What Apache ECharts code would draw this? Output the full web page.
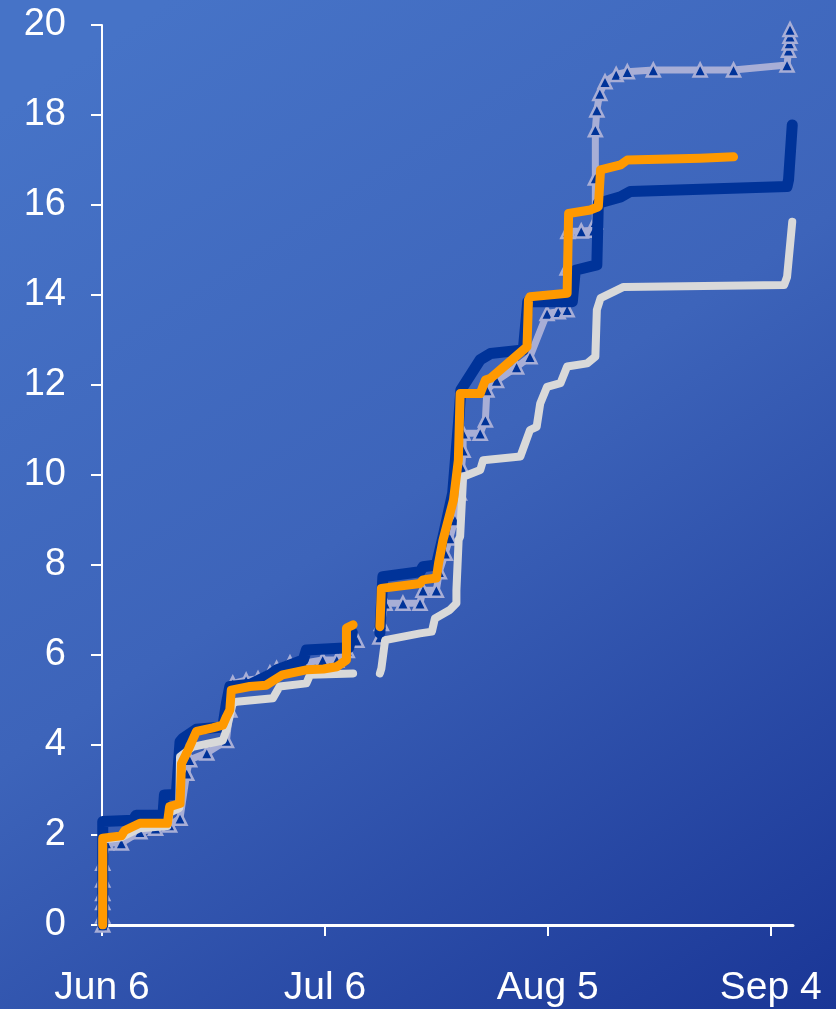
<!DOCTYPE html>
<html>
<head>
<meta charset="utf-8">
<title>Cumulative totals, Jun 6 – Sep 4</title>
<script src="https://cdn.jsdelivr.net/npm/echarts@6/dist/echarts.min.js"></script>
<style>
  html, body { margin: 0; padding: 0; }
  #chart { width: 836px; height: 1009px; }
</style>
</head>
<body>
<div id="chart"></div>
<script>
// x values are days after Jun 6; null breaks a line where readings are missing.
const startDate = Date.UTC(2007, 5, 6);
const monthNames = ['Jan', 'Feb', 'Mar', 'Apr', 'May', 'Jun', 'Jul', 'Aug', 'Sep', 'Oct', 'Nov', 'Dec'];
const xTickDays = [0, 30, 60, 90];
const yTicks = [0, 2, 4, 6, 8, 10, 12, 14, 16, 18, 20];

// Series with triangle markers (pale line, dark triangles)
const seriesTriangle = [
  [0.1, 0], [0.1, 0.2], [0.1, 0.5], [0.1, 0.7], [0.1, 1.0], [0.1, 1.37], [0.6, 1.82],
  [2.6, 1.82], [5.1, 2.07], [7.2, 2.15], [9.1, 2.22], [10.5, 2.37], [11.4, 3.37], [11.8, 3.67],
  [14.1, 3.82], [16.75, 4.1], [17.2, 4.78], [17.6, 5.37], [19.4, 5.44], [21.0, 5.47],
  [22.6, 5.6], [23.5, 5.7], [25.3, 5.82], [27.1, 5.82], [29.7, 5.89], [31.6, 5.89],
  [33.0, 6.1], [34.3, 6.33],
  [35.8, null],
  [37.4, 6.4], [37.6, 6.7], [38.1, 7.15], [40.5, 7.15], [42.8, 7.15], [43.2, 7.44], [45.0, 7.44],
  [45.4, 7.85], [46.2, 8.26], [46.8, 8.6], [47.5, 9.0], [48.1, 9.6], [48.4, 10.18],
  [48.6, 10.55], [48.6, 10.93], [50.9, 10.93], [51.6, 11.22], [51.8, 11.89], [53.1, 12.1],
  [55.8, 12.4], [57.6, 12.63], [59.9, 13.59], [61.4, 13.63], [62.6, 13.67], [62.6, 14.6],
  [62.7, 15.41], [64.5, 15.42], [66.2, 15.44], [66.4, 15.63], [66.4, 16.6], [66.4, 17.67],
  [66.6, 18.11], [67.0, 18.48], [67.7, 18.74], [69.2, 18.9], [70.7, 18.96], [74.2, 19.0],
  [80.5, 19.0], [85.0, 19.0], [92.2, 19.11], [92.4, 19.44], [92.5, 19.6], [92.6, 19.75], [92.6, 19.9]
];

// Dark blue series
const seriesNavy = [
  [0.1, 0], [0.1, 2.3], [4.2, 2.33], [4.6, 2.44], [8.2, 2.44], [8.4, 2.89], [10.0, 2.9],
  [10.5, 4.07], [10.9, 4.15], [12.7, 4.35], [16.25, 4.4], [16.75, 4.93], [17.2, 5.3],
  [20.0, 5.35], [22.6, 5.56], [23.5, 5.67], [27.1, 5.89], [27.5, 6.11], [33.2, 6.16],
  [33.7, 6.5],
  [35.6, null],
  [37.4, 6.49], [37.8, 7.74], [42.8, 7.85], [43.2, 7.96], [45.0, 8.0], [46.0, 8.7],
  [47.2, 9.6], [48.0, 11.2], [48.3, 11.89], [50.9, 12.56], [52.3, 12.7], [56.7, 12.78],
  [57.3, 13.85], [63.3, 13.85], [63.7, 14.55], [66.6, 14.67], [66.8, 16.04], [69.8, 16.18],
  [71.1, 16.3], [92.2, 16.41], [92.4, 16.56], [92.9, 17.78]
];

// Light grey series
const seriesGrey = [
  [0.1, 0], [0.1, 1.9], [2.6, 1.95], [5.1, 2.15], [8.8, 2.2], [9.1, 2.5], [10.4, 2.6],
  [10.5, 3.74], [12.2, 3.96], [16.25, 4.1], [16.75, 4.33], [17.6, 4.93], [18.1, 4.96],
  [23.0, 5.04], [23.9, 5.3], [27.5, 5.37], [28.0, 5.56], [33.8, 5.59],
  [35.6, null],
  [37.4, 5.59], [37.6, 5.7], [38.1, 6.33], [42.8, 6.48], [44.4, 6.52], [44.8, 6.81],
  [46.8, 7.0], [47.7, 7.15], [47.7, 7.44], [48.0, 8.56], [48.2, 8.63], [48.6, 9.96],
  [50.9, 10.11], [51.3, 10.33], [56.3, 10.41], [57.6, 11.0], [58.5, 11.07], [58.98, 11.59],
  [59.9, 11.96], [61.7, 12.04], [62.6, 12.41], [65.3, 12.48], [66.4, 12.63], [66.6, 13.67],
  [67.1, 13.93], [70.2, 14.18], [91.8, 14.22], [92.2, 14.4], [92.9, 15.63]
];

// Orange series
const seriesOrange = [
  [0.1, 0], [0.1, 1.93], [2.6, 1.98], [3.05, 2.1], [5.1, 2.26], [8.8, 2.26], [9.1, 2.63],
  [10.5, 2.7], [10.7, 3.59], [11.4, 3.82], [12.7, 4.3], [14.9, 4.38], [16.25, 4.44],
  [16.75, 4.63], [17.2, 4.78], [17.4, 5.22], [19.9, 5.3], [22.1, 5.33], [24.3, 5.56],
  [27.5, 5.67], [29.8, 5.69], [31.6, 5.74], [32.9, 5.89], [32.9, 6.6], [33.8, 6.67],
  [35.6, null],
  [37.4, 6.63], [37.6, 7.48], [42.8, 7.59], [43.2, 7.67], [45.0, 7.71], [45.3, 8.04],
  [45.9, 8.56], [47.3, 9.44], [47.96, 10.33], [48.2, 11.81], [50.9, 11.81], [51.6, 12.11],
  [52.3, 12.15], [57.2, 12.85], [57.4, 13.89], [57.6, 13.96], [62.6, 14.04], [62.8, 15.81],
  [65.7, 15.89], [66.8, 15.96], [67.1, 16.78], [69.8, 16.89], [70.7, 17.0], [80.5, 17.04],
  [85.0, 17.07]
];

function dayLabel(day) {
  const d = new Date(startDate + day * 86400000);
  return monthNames[d.getUTCMonth()] + ' ' + d.getUTCDate();
}

const fontFamily = 'Liberation Sans, Arial, sans-serif';

const chart = echarts.init(document.getElementById('chart'), null, { renderer: 'canvas' });

function lineSeries(name, data, color, width, z) {
  return {
    name: name,
    type: 'line',
    data: data,
    z: z,
    symbol: 'none',
    connectNulls: false,
    lineStyle: { color: color, width: width, cap: 'round', join: 'round' },
    itemStyle: { color: color }
  };
}

const triangleSeries = {
  name: 'Triangle series',
  type: 'line',
  data: seriesTriangle,
  z: 2,
  symbol: 'triangle',
  symbolSize: 13,
  showSymbol: true,
  showAllSymbol: true,
  connectNulls: false,
  lineStyle: { color: '#a8aed6', width: 7, cap: 'round', join: 'round' },
  itemStyle: { color: '#003399', borderColor: '#a8aed6', borderWidth: 2.5 }
};

chart.setOption({
  animation: false,
  backgroundColor: {
    type: 'linear', x: 0.2, y: 0, x2: 1, y2: 1,
    colorStops: [
      { offset: 0, color: '#4673c7' },
      { offset: 0.45, color: '#3d64ba' },
      { offset: 1, color: '#1a3696' }
    ]
  },
  grid: { left: 102, right: 43, top: 25, bottom: 84, containLabel: false },
  xAxis: {
    type: 'value',
    min: 0,
    max: 93,
    interval: 30,
    splitLine: { show: false },
    axisLine: { show: true, onZero: false, lineStyle: { color: '#ffffff', width: 3 } },
    axisTick: { show: true, inside: false, length: 11, customValues: xTickDays, lineStyle: { color: '#ffffff', width: 2 } },
    axisLabel: { margin: 44, customValues: xTickDays, formatter: dayLabel, color: '#ffffff', fontFamily: fontFamily, fontSize: 39 }
  },
  yAxis: {
    type: 'value',
    min: 0,
    max: 20,
    interval: 2,
    splitLine: { show: false },
    axisLine: { show: true, lineStyle: { color: '#ffffff', width: 2 } },
    axisTick: { show: true, inside: false, length: 11, lineStyle: { color: '#ffffff', width: 2 } },
    axisLabel: { margin: 36, customValues: yTicks, color: '#ffffff', fontFamily: fontFamily, fontSize: 38 }
  },
  series: [
    triangleSeries,
    lineSeries('Dark blue', seriesNavy, '#003399', 11, 3),
    lineSeries('Light grey', seriesGrey, '#d9d9d9', 8, 4),
    lineSeries('Orange', seriesOrange, '#ff9900', 9, 5)
  ]
});
</script>
</body>
</html>
